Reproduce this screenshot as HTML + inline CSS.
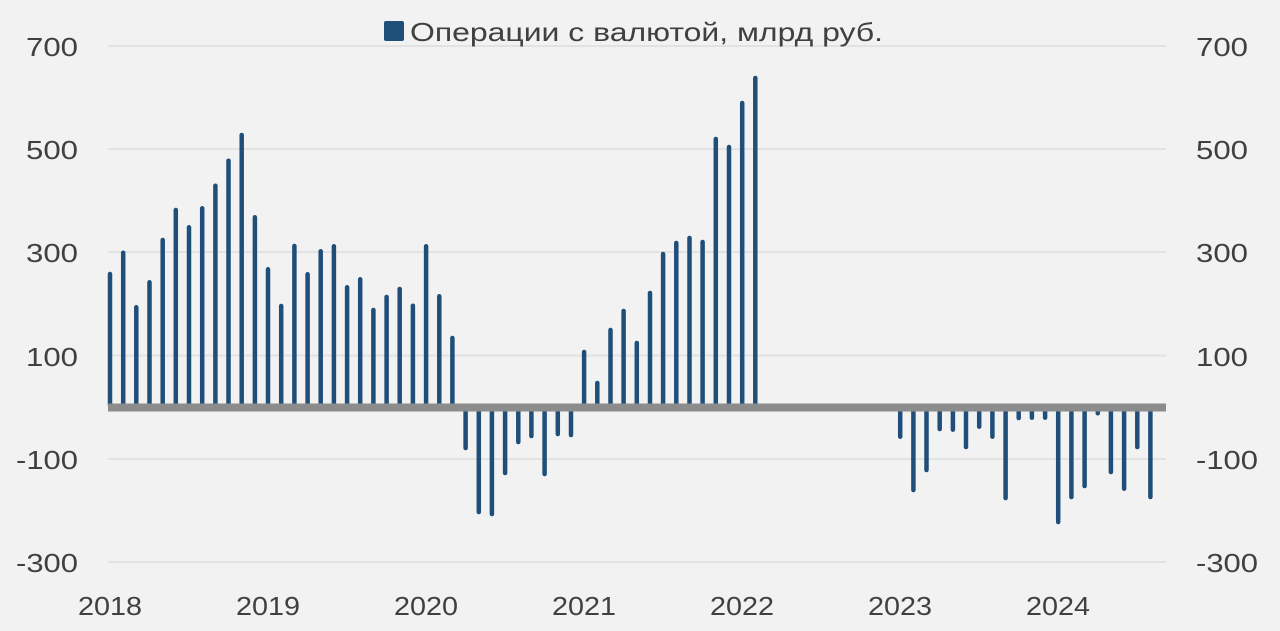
<!DOCTYPE html>
<html><head><meta charset="utf-8"><style>
body{margin:0;background:#f2f2f2}
svg{display:block}
text{font-family:"Liberation Sans",sans-serif;fill:#404040;font-size:26px}
</style></head><body>
<svg width="1280" height="631" viewBox="0 0 1280 631">
<rect width="1280" height="631" fill="#f2f2f2"/>
<g stroke="#e2e2e2" stroke-width="2">
<line x1="108" x2="1166" y1="46" y2="46"/><line x1="108" x2="1166" y1="149" y2="149"/>
<line x1="108" x2="1166" y1="252" y2="252"/><line x1="108" x2="1166" y1="355.5" y2="355.5"/>
<line x1="108" x2="1166" y1="459" y2="459"/><line x1="108" x2="1166" y1="562" y2="562"/>
</g>
<g stroke="#1f4e79" stroke-width="4.5" stroke-linecap="round" id="bars"></g>
<rect x="108" y="403.5" width="1058" height="8" fill="#8c8c8c"/>
<g lengthAdjust="spacingAndGlyphs">
<text x="26" y="56" textLength="52" lengthAdjust="spacingAndGlyphs">700</text><text x="26" y="159" textLength="52" lengthAdjust="spacingAndGlyphs">500</text><text x="26" y="262" textLength="52" lengthAdjust="spacingAndGlyphs">300</text>
<text x="26" y="366" textLength="52" lengthAdjust="spacingAndGlyphs">100</text><text x="16" y="469" textLength="62" lengthAdjust="spacingAndGlyphs">-100</text><text x="16" y="572" textLength="62" lengthAdjust="spacingAndGlyphs">-300</text>
</g>
<g>
<text x="1196" y="56" textLength="52" lengthAdjust="spacingAndGlyphs">700</text><text x="1196" y="159" textLength="52" lengthAdjust="spacingAndGlyphs">500</text><text x="1196" y="262" textLength="52" lengthAdjust="spacingAndGlyphs">300</text>
<text x="1196" y="366" textLength="52" lengthAdjust="spacingAndGlyphs">100</text><text x="1196" y="469" textLength="62" lengthAdjust="spacingAndGlyphs">-100</text><text x="1196" y="572" textLength="62" lengthAdjust="spacingAndGlyphs">-300</text>
</g>
<g>
<text x="78" y="615" textLength="64" lengthAdjust="spacingAndGlyphs">2018</text><text x="236" y="615" textLength="64" lengthAdjust="spacingAndGlyphs">2019</text><text x="394" y="615" textLength="64" lengthAdjust="spacingAndGlyphs">2020</text>
<text x="552" y="615" textLength="64" lengthAdjust="spacingAndGlyphs">2021</text><text x="710" y="615" textLength="64" lengthAdjust="spacingAndGlyphs">2022</text><text x="868" y="615" textLength="64" lengthAdjust="spacingAndGlyphs">2023</text>
<text x="1026" y="615" textLength="64" lengthAdjust="spacingAndGlyphs">2024</text>
</g>
<rect x="384" y="21" width="20" height="20" rx="2" fill="#1f4e79"/>
<text x="410" y="41" textLength="473" lengthAdjust="spacingAndGlyphs">Операции с валютой, млрд руб.</text>
</svg>
<script>
var v=[274,252.7,307.3,282.3,240,210,227.3,208.3,185.7,160.7,135,217.3,269.3,306,246,274.3,251.3,246.3,287.3,279.3,310,297,289,305.7,246.3,296.3,338,
-448,-512,-514,-473,-442,-436,-474,-434,-435,352,383,330,311,343,293,254,243,238,242,139,147,103,78];
var w=[];for(var i=0;i<50;i++)w[i]=v[i];
var t=[-436.7,-490,-470,-429,-429.7,-447,-426.7,-436.7,-498,-418,-417.7,-417.7,-522,-497,-486,-413.3,-472,-488.7,-447,-497];
for(var j=0;j<20;j++)w[60+j]=t[j];
var g=document.getElementById('bars'),s='';
for(var k=0;k<w.length;k++){if(w[k]===undefined)continue;var x=(110+13.17*k).toFixed(1);var y=w[k];
if(y>0)s+='<line x1="'+x+'" x2="'+x+'" y1="405" y2="'+y+'"/>';else s+='<line x1="'+x+'" x2="'+x+'" y1="410" y2="'+(-y)+'"/>';}
g.innerHTML=s;
</script>
</body></html>
